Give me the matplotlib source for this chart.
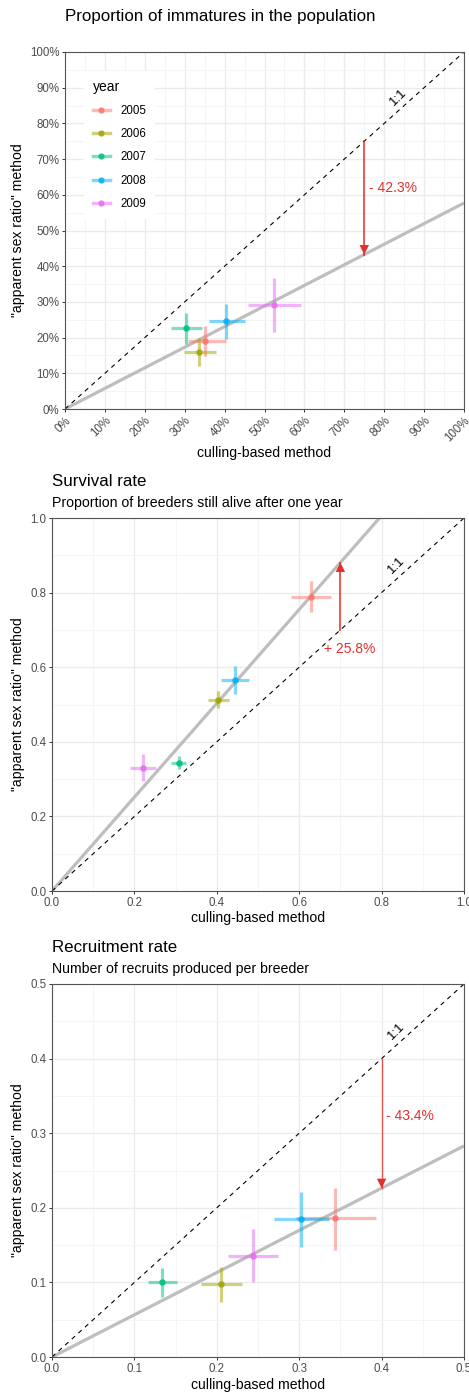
import numpy as np
import matplotlib
matplotlib.use('Agg')
import matplotlib.pyplot as plt
from matplotlib.lines import Line2D
from matplotlib.legend_handler import HandlerTuple

plt.rcParams['font.family'] = ['Liberation Sans', 'DejaVu Sans']

years = ['2005', '2006', '2007', '2008', '2009']
colors = ['#F8766D', '#A3A500', '#00BF7D', '#00B0F6', '#E76BF3']

# proportion of immatures
imm_x = [0.352, 0.337, 0.303, 0.403, 0.524]
imm_x_lo = [0.308, 0.297, 0.265, 0.360, 0.459]
imm_x_hi = [0.404, 0.378, 0.343, 0.450, 0.591]
imm_y = [0.190, 0.160, 0.226, 0.246, 0.292]
imm_y_lo = [0.148, 0.121, 0.181, 0.196, 0.216]
imm_y_hi = [0.232, 0.199, 0.268, 0.295, 0.367]

# survival rate
surv_x = [0.629, 0.403, 0.308, 0.445, 0.220]
surv_x_lo = [0.579, 0.378, 0.290, 0.411, 0.190]
surv_x_hi = [0.678, 0.429, 0.326, 0.477, 0.252]
surv_y = [0.788, 0.513, 0.344, 0.565, 0.330]
surv_y_lo = [0.747, 0.490, 0.326, 0.527, 0.294]
surv_y_hi = [0.830, 0.537, 0.363, 0.602, 0.366]

# recruitment rate
recr_x = [0.343, 0.2055, 0.134, 0.302, 0.244]
recr_x_lo = [0.2965, 0.181, 0.117, 0.269, 0.2136]
recr_x_hi = [0.393, 0.230, 0.152, 0.336, 0.2747]
recr_y = [0.186, 0.0978, 0.100, 0.185, 0.136]
recr_y_lo = [0.1435, 0.0735, 0.081, 0.1475, 0.1004]
recr_y_hi = [0.226, 0.121, 0.119, 0.221, 0.172]

# ratio of the two methods, where the arrow goes, its label
slopes = [0.577, 1.258, 0.566]
arrow_at = [0.75, 0.70, 0.40]
diff_labels = ['- 42.3%', '+ 25.8%', '- 43.4%']
diff_label_xy = [(0.762, 0.619), (0.660, 0.649), (0.405, 0.323)]

RED = '#E3302B'
W, H = 469, 1393
fig = plt.figure(figsize=(W / 100, H / 100), dpi=100)


def box(l, t, r, b):
    return [l / W, (H - b) / H, (r - l) / W, (b - t) / H]


def panel(ax, x, xlo, xhi, y, ylo, yhi, lim, major, minor, k):
    ax.set_xlim(0, lim)
    ax.set_ylim(0, lim)
    ax.set_xticks(major)
    ax.set_yticks(major)
    ax.set_xticks(minor, minor=True)
    ax.set_yticks(minor, minor=True)
    ax.grid(which='major', color='#EBEBEB', lw=1.0)
    ax.grid(which='minor', color='#F4F4F4', lw=0.6)
    ax.set_axisbelow(True)
    ax.tick_params(which='minor', length=0)
    ax.tick_params(which='major', length=2.5, width=0.7, color='#333333',
                   labelsize=8.3, labelcolor='#4D4D4D', pad=1.5)
    for s in ax.spines.values():
        s.set_color('#555555')
        s.set_linewidth(0.8)

    # fitted relation and 1:1 line
    ax.plot([0, lim], [0, slopes[k] * lim], color='#BEBEBE', lw=2.3, zorder=2,
            solid_capstyle='butt')
    ax.plot([0, lim], [0, lim], color='black', lw=0.8, ls=(0, (4, 4)), zorder=2)

    for i in range(len(x)):
        ax.errorbar(x[i], y[i],
                    xerr=[[x[i] - xlo[i]], [xhi[i] - x[i]]],
                    yerr=[[y[i] - ylo[i]], [yhi[i] - y[i]]],
                    fmt='none', ecolor=colors[i], elinewidth=2.3, alpha=0.5,
                    capsize=0, zorder=3)
        ax.scatter(x[i], y[i], s=22, color=colors[i], alpha=0.85, lw=0, zorder=4)

    a = arrow_at[k]
    ax.plot([a, a], [a, slopes[k] * a], color=RED, alpha=0.8,
            lw=1.4 if k < 2 else 1.0, zorder=5)
    ax.annotate('', xy=(a, slopes[k] * a), xytext=(a, a),
                arrowprops=dict(arrowstyle='-|>', color=RED, lw=0,
                                mutation_scale=17, shrinkA=0, shrinkB=0), zorder=5)
    ax.text(diff_label_xy[k][0], diff_label_xy[k][1], diff_labels[k], color=RED,
            fontsize=10, ha='left', va='center')
    ax.text(0.836, 0.872, '1:1', transform=ax.transAxes, rotation=45,
            fontsize=9.5, ha='center', va='center')


# Panel 1
ax1 = fig.add_axes(box(65, 52, 464, 409))
ticks1 = np.arange(0, 1.01, 0.1)
panel(ax1, imm_x, imm_x_lo, imm_x_hi, imm_y, imm_y_lo, imm_y_hi, 1.0,
      ticks1, np.arange(0.05, 1.0, 0.1), 0)
pct = ['%d%%' % round(t * 100) for t in ticks1]
ax1.set_xticklabels(pct, rotation=45, ha='right', va='top', rotation_mode='anchor')
ax1.set_yticklabels(pct)
fig.text(65 / W, 1 - 16 / H, 'Proportion of immatures in the population',
         fontsize=12.2, ha='left', va='center')

handles = []
for c in colors:
    ln = Line2D([], [], color=c, lw=2.5, alpha=0.5)
    pt = Line2D([], [], color=c, marker='o', markersize=4.5, lw=0, alpha=0.85,
                markeredgewidth=0)
    handles.append((ln, pt))
leg = ax1.legend(handles, years, title='year', loc='upper left',
                 bbox_to_anchor=(0.048, 0.947), borderaxespad=0, fontsize=8.3,
                 title_fontsize=10, handlelength=1.5, handletextpad=0.9,
                 labelspacing=0.98, borderpad=0.75, frameon=True,
                 handler_map={tuple: HandlerTuple(ndivide=1)})
leg.get_frame().set_facecolor('white')
leg.get_frame().set_edgecolor('none')
leg.get_frame().set_alpha(1)
leg.get_frame().set_boxstyle('square', pad=0)
leg._legend_box.align = 'left'

# Panel 2
ax2 = fig.add_axes(box(52, 518, 464, 891))
panel(ax2, surv_x, surv_x_lo, surv_x_hi, surv_y, surv_y_lo, surv_y_hi, 1.0,
      np.arange(0, 1.01, 0.2), np.arange(0.1, 1.0, 0.2), 1)
ax2.set_xticklabels(['0.0', '0.2', '0.4', '0.6', '0.8', '1.0'])
ax2.set_yticklabels(['0.0', '0.2', '0.4', '0.6', '0.8', '1.0'])
fig.text(52 / W, 1 - 482 / H, 'Survival rate', fontsize=12.2, ha='left', va='center')
fig.text(52 / W, 1 - 503 / H, 'Proportion of breeders still alive after one year',
         fontsize=10.2, ha='left', va='center')

# Panel 3
ax3 = fig.add_axes(box(52, 984, 464, 1357))
panel(ax3, recr_x, recr_x_lo, recr_x_hi, recr_y, recr_y_lo, recr_y_hi, 0.5,
      np.arange(0, 0.51, 0.1), np.arange(0.05, 0.5, 0.1), 2)
ax3.set_xticklabels(['0.0', '0.1', '0.2', '0.3', '0.4', '0.5'])
ax3.set_yticklabels(['0.0', '0.1', '0.2', '0.3', '0.4', '0.5'])
fig.text(52 / W, 1 - 948 / H, 'Recruitment rate', fontsize=12.2, ha='left', va='center')
fig.text(52 / W, 1 - 969 / H, 'Number of recruits produced per breeder',
         fontsize=10.2, ha='left', va='center')

# axis titles, placed in figure coords
for ax, xl_y in [(ax1, 453), (ax2, 918), (ax3, 1385)]:
    pos = ax.get_position()
    ax.set_xlabel('culling-based method', fontsize=10.1)
    ax.xaxis.set_label_coords(pos.x0 + pos.width / 2, 1 - xl_y / H,
                              transform=fig.transFigure)
    ax.xaxis.label.set_va('center')
    ax.set_ylabel('"apparent sex ratio" method', fontsize=10.1)
    ax.yaxis.set_label_coords(18 / W, pos.y0 + pos.height / 2, transform=fig.transFigure)
    ax.yaxis.label.set_va('center')

fig.savefig('out.png', dpi=100, facecolor='white')
